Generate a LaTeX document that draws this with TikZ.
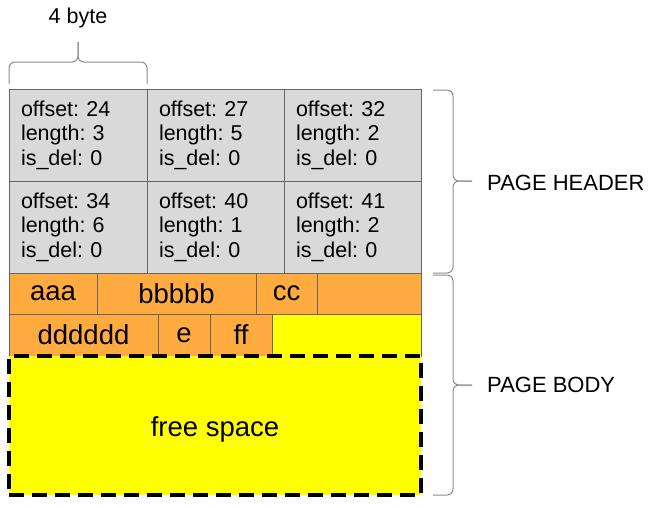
\documentclass[tikz,border=0pt]{standalone}
\usepackage{fontspec}
\setmainfont{Liberation Sans}
\usetikzlibrary{positioning}
\definecolor{hdrgray}{HTML}{D9D9D9}
\definecolor{recorange}{HTML}{FFAB40}
\definecolor{freeyellow}{HTML}{FFFF00}
\definecolor{edgegray}{HTML}{666666}
\definecolor{bracegray}{HTML}{8C8C8C}
\newcommand\diagfont{\fontsize{21.5pt}{24.5pt}\selectfont\frenchspacing}
\newcommand\recfont{\fontsize{27.5pt}{30pt}\selectfont}
\tikzset{
  slot/.style={draw=edgegray, fill=hdrgray, line width=1pt, outer sep=0pt,
               minimum height=92pt, inner xsep=12pt, inner ysep=0pt, align=left},
  rec/.style={draw=edgegray, fill=recorange, line width=1pt, outer sep=0pt,
              inner sep=0pt, minimum height=41pt, font=\recfont},
  freebox/.style={draw=black, fill=freeyellow, line width=4pt, outer sep=0pt,
                  dash pattern=on 15pt off 8pt, minimum width=412pt,
                  minimum height=139pt, font=\recfont, text height=27pt},
  brace/.style={draw=bracegray, line width=1pt, rounded corners=6pt},
  tag/.style={inner sep=0pt, font=\fontsize{22pt}{26pt}\selectfont},
}

\begin{document}
\begin{tikzpicture}[font=\diagfont]
  \useasboundingbox (0,0) rectangle (656pt,-507pt);
  % header slots, two rows of three
  \node[slot, anchor=north west, text width=114pt] (h11) at (9pt,-89pt)
    {offset: 24\\length: 3\\is\_del: 0};
  \node[slot, right=0pt of h11, text width=113pt] (h12) {offset: 27\\length: 5\\is\_del: 0};
  \node[slot, right=0pt of h12, text width=113pt] (h13) {offset: 32\\length: 2\\is\_del: 0};
  \node[slot, below=0pt of h11, text width=114pt] (h21) {offset: 34\\length: 6\\is\_del: 0};
  \node[slot, right=0pt of h21, text width=113pt] (h22) {offset: 40\\length: 1\\is\_del: 0};
  \node[slot, right=0pt of h22, text width=113pt] (h23) {offset: 41\\length: 2\\is\_del: 0};
  % records
  \node[rec, below=0pt of h21.south west, anchor=north west, minimum width=88pt] (d11) {aaa};
  \node[rec, right=0pt of d11, minimum width=159pt] (d12) {bbbbb};
  \node[rec, right=0pt of d12, minimum width=61pt] (d13) {cc};
  \node[rec, right=0pt of d13, minimum width=104pt] (d14) {};
  \node[rec, below=0pt of d11.south west, anchor=north west, minimum width=149pt,
        minimum height=42pt] (d21) {dddddd};
  \node[rec, right=0pt of d21, minimum width=52pt, minimum height=42pt] (d22) {e};
  \node[rec, right=0pt of d22, minimum width=62pt, minimum height=42pt] (d23) {ff};
  \node[rec, right=0pt of d23, minimum width=149pt, minimum height=42pt,
        fill=freeyellow] (d24) {};
  % free space
  \node[freebox, below=0pt of d21.south west, anchor=north west] (free) {free space};
  % braces
  \coordinate (bytel) at ([yshift=5pt]h11.north west);
  \coordinate (byter) at ([yshift=5pt]h11.north east);
  \coordinate (bytetip) at ([yshift=47pt]h11.north);
  \draw[brace] (bytel) |- ([yshift=-20pt]bytetip) -- (bytetip);
  \draw[brace] (byter) |- ([yshift=-20pt]bytetip) -- (bytetip);
  \node[tag, above=14pt of bytetip, font=\diagfont] (bytelbl) {4 byte};
  \coordinate (hdrtop) at ([xshift=12pt,yshift=-1pt]h13.north east);
  \coordinate (hdrbot) at ([xshift=12pt]h23.south east);
  \coordinate (hdrtip) at ([xshift=51pt]h23.north east);
  \draw[brace] (hdrtop) -| ([xshift=-19pt]hdrtip) -- (hdrtip);
  \draw[brace] (hdrbot) -| ([xshift=-19pt]hdrtip) -- (hdrtip);
  \node[tag, right=15pt of hdrtip, yshift=-2pt] (hdrlbl) {PAGE HEADER};
  \coordinate (bodytop) at ([xshift=12pt,yshift=-2pt]d14.north east);
  \coordinate (bodybot) at ([xshift=12pt]free.south east);
  \coordinate (bodytip) at ([xshift=51pt,yshift=-29pt]free.north east);
  \draw[brace] (bodytop) -| ([xshift=-19pt]bodytip) -- (bodytip);
  \draw[brace] (bodybot) -| ([xshift=-19pt]bodytip) -- (bodytip);
  \node[tag, right=15pt of bodytip] (bodylbl) {PAGE BODY};
\end{tikzpicture}
\end{document}
